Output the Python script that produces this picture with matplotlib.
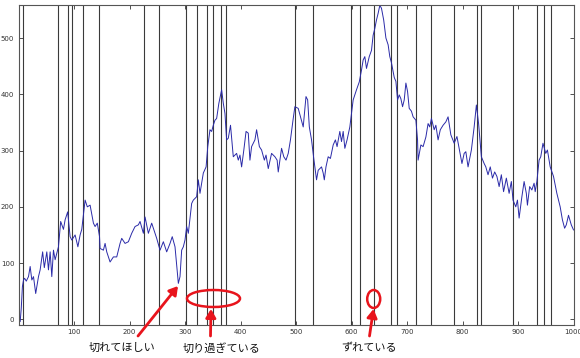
import matplotlib
matplotlib.use("Agg")
import matplotlib.pyplot as plt
from matplotlib.patches import Ellipse, FancyArrowPatch

# ---- data ----
x_vals = [1, 3, 5, 7, 9, 11, 14, 18, 21, 24, 27, 31, 36, 39, 43.5, 46.5, 51, 54, 57, 60,
          63, 66, 72, 76, 81, 84, 88.6, 93, 96, 102, 107, 111, 114, 120, 124, 129, 135, 138,
          142, 146, 147, 153, 156, 159, 165, 171, 177, 183, 186, 192, 198, 204, 210, 216,
          219, 225, 228, 234, 240, 243, 249, 255, 261, 267, 273, 277, 282, 288, 291, 294,
          297, 300, 303, 306, 312, 315, 321, 324, 327, 333, 338, 341, 345, 348, 351, 354,
          357, 361, 366, 369, 372, 375, 378, 382, 387, 393, 396, 399, 402, 406, 410, 414,
          417, 420, 426, 429, 434, 438, 443, 446, 450, 456, 462, 466, 468, 474, 478, 482,
          486, 490, 495, 498, 504, 509, 513, 518, 521, 524, 528, 532, 537, 540, 546, 549,
          551, 554, 558, 562, 567, 571, 574, 579, 582, 585, 588, 592, 597, 600, 603, 609,
          614, 618, 621, 624, 627, 632, 636, 639, 642, 645, 648, 651, 654, 658, 662, 666,
          669, 672, 677, 680, 683, 686, 689, 692, 695, 698, 701, 704, 708, 711, 716, 719,
          720, 725, 729, 734, 738, 741, 744, 749, 752, 756, 760, 765, 770, 774, 779, 785,
          790, 794, 799, 803, 806, 810, 816, 821, 825, 829, 834, 839, 842, 846, 850, 854,
          858, 862, 866, 870, 874, 879, 884, 888, 891, 896, 899, 902, 907, 911, 915, 917,
          921, 925, 929, 931, 934, 938, 941, 945, 950, 953, 958, 964, 970, 976, 980, 984,
          987, 991, 996, 1000]
y_vals = [5, -4, 20, 58, 70, 73, 68, 76, 94, 70, 76, 46, 76, 88, 120, 92, 120, 88, 120, 76,
          123, 106, 129, 174, 160, 177, 191, 147, 141, 150, 129, 150, 160, 212, 200, 203, 171, 165,
          171, 147, 126, 123, 135, 120, 102, 111, 111, 135, 144, 135, 138, 153, 165, 168,
          174, 153, 182, 153, 171, 162, 144, 123, 138, 120, 135, 147, 129, 64, 76, 123,
          129, 141, 165, 153, 206, 212, 218, 248, 224, 260, 271, 307, 337, 334, 345, 354,
          357, 384, 408, 384, 366, 319, 322, 345, 289, 295, 283, 292, 271, 301, 334, 331,
          283, 307, 319, 337, 307, 301, 283, 292, 268, 295, 289, 283, 262, 304, 289, 283,
          295, 319, 357, 378, 375, 357, 342, 396, 390, 342, 319, 286, 248, 265, 271, 260,
          248, 271, 289, 286, 310, 319, 307, 334, 316, 334, 304, 319, 342, 366, 390, 408,
          422, 443, 461, 467, 446, 467, 478, 505, 517, 532, 544, 558, 553, 532, 500, 488,
          467, 456, 430, 423, 390, 399, 392, 378, 390, 420, 405, 375, 370, 360, 354, 319,
          283, 310, 307, 324, 348, 342, 357, 337, 345, 319, 337, 345, 351, 360, 328, 313,
          325, 304, 277, 295, 298, 271, 301, 342, 381, 348, 289, 277, 271, 257, 271, 251,
          262, 254, 236, 257, 227, 251, 224, 245, 212, 200, 212, 180, 218, 245, 224, 203,
          236, 230, 242, 227, 245, 283, 289, 313, 295, 301, 271, 254, 224, 200, 177, 162,
          168, 185, 168, 159]
cut_positions = [9, 72, 90, 96, 117, 145, 227, 253, 301, 322, 340, 351, 365, 373, 499,
                 531, 599, 615, 641, 672, 682, 717, 744, 785, 827, 834, 891, 935, 946, 959]
x_ticks = [100, 200, 300, 400, 500, 600, 700, 800, 900, 1000]
y_ticks = [0, 100, 200, 300, 400, 500]
notes = ["切れてほしい", "切り過ぎている", "ずれている"]

W, H = 580, 358
fig = plt.figure(figsize=(W / 100, H / 100), dpi=100)
ax = fig.add_axes([18.5 / W, 1 - 325 / H, (573.5 - 18.5) / W, (325 - 5.4) / H])

for c in cut_positions:
    ax.axvline(c, color="#3a3a3a", lw=0.8, zorder=1)
ax.plot(x_vals, y_vals, color="#2a2aa8", lw=0.7, zorder=2)

ax.set_xlim(0, 1000)
ax.set_ylim(-10, 558)
ax.set_xticks(x_ticks)
ax.set_yticks(y_ticks)
ax.tick_params(direction="in", length=3, width=0.6, labelsize=5, colors="#333333",
               top=True, right=True, pad=3)
for s in ax.spines.values():
    s.set_color("#555555")
    s.set_linewidth(0.8)


def fp(px, py):
    return (px / W, 1 - py / H)


jp = ["Noto Sans CJK JP", "DejaVu Sans"]
red = "#e8141c"
text_pos = [(122, 348), (222, 348), (369, 348)]
for t, (px, py) in zip(notes, text_pos):
    fig.text(*fp(px, py), t, family=jp, fontsize=8, ha="center", va="center", color="#111111")

# ellipses
for (cx, cy, w, h) in [(213.5, 298.5, 53, 17), (373.7, 299, 13, 18)]:
    e = Ellipse(fp(cx, cy), w / W, h / H, transform=fig.transFigure, fill=False,
                edgecolor=red, lw=1.8)
    fig.add_artist(e)

# arrows
for (x0, y0, x1, y1) in [(138, 336, 178, 286), (210.5, 336, 211, 309), (369.5, 336, 373.5, 309)]:
    a = FancyArrowPatch(fp(x0, y0), fp(x1, y1), transform=fig.transFigure,
                        arrowstyle="-|>,head_length=5,head_width=3", color=red, lw=2,
                        shrinkA=0, shrinkB=0)
    fig.add_artist(a)

fig.savefig("out.png", dpi=100)
